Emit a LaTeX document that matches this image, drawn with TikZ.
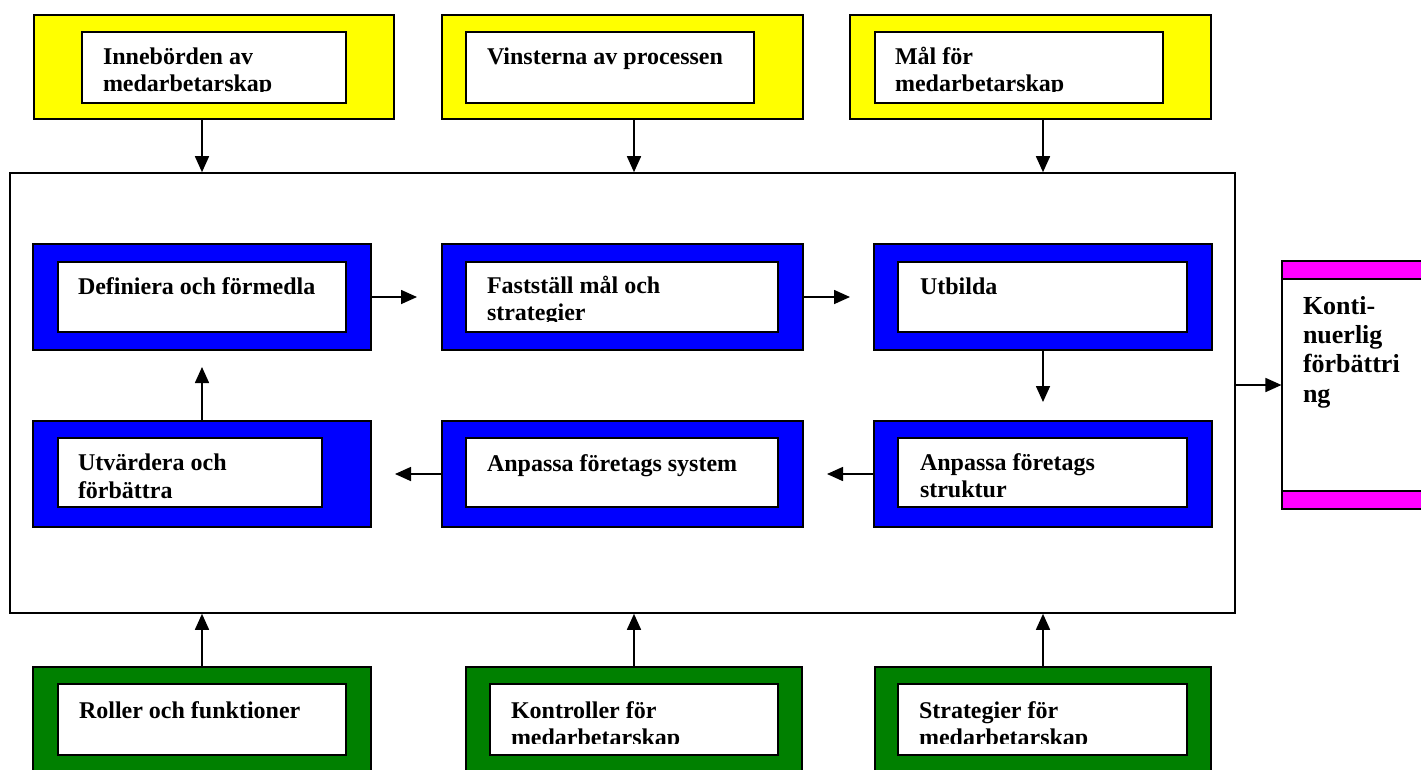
\documentclass[tikz,border=0pt]{standalone}
\usepackage{fontspec}
\setmainfont{Liberation Serif}
\usetikzlibrary{arrows.meta,fit}
\definecolor{yel}{RGB}{255,255,0}
\definecolor{blu}{RGB}{0,0,255}
\definecolor{grn}{RGB}{0,128,0}
\definecolor{mag}{RGB}{255,0,255}
\tikzset{
  outerbox/.style={draw=black, line width=0.8pt, inner sep=0pt},
  ybox/.style={outerbox, fill=yel},
  bbox/.style={outerbox, fill=blu},
  gbox/.style={outerbox, fill=grn},
  mstrip/.style={outerbox, fill=mag},
  inbox/.style={draw=black, fill=white, line width=1.2pt, inner sep=0pt},
  mainbox/.style={draw=black, fill=white, line width=1.2pt, inner sep=0pt},
  lbl/.style={anchor=base west, inner sep=0pt, outer sep=0pt, align=left,
    font=\fontsize{18}{20.6}\selectfont\bfseries},
  klbl/.style={lbl, font=\fontsize{19.5}{21.8}\selectfont\bfseries},
  arr/.style={-{Triangle[width=10.5pt,length=12pt]}, line width=1.2pt},
}
\begin{document}
\begin{tikzpicture}[x=0.75pt,y=-0.75pt]
\useasboundingbox (0,0) rectangle (1421,769);
\clip (0,0) rectangle (1421,769);

% main frame
\node[mainbox, fit={(10,173) (1235,613)}] (main) {};

% ---------- yellow boxes ----------
\node[ybox, fit={(34,15) (394,119)}] (y1o) {};
\node[inbox, fit={(82,32) (346,103)}] (y1i) {};
\begin{scope}\clip (82,32) rectangle (346,91);
\node[lbl] (y1t) at (103,91.5) {Innebörden av\\medarbetarskap};
\end{scope}

\node[ybox, fit={(442,15) (803,119)}] (y2o) {};
\node[inbox, fit={(466,32) (754,103)}] (y2i) {};
\begin{scope}\clip (466,32) rectangle (754,91);
\node[lbl] (y2t) at (487,64) {Vinsterna av processen};
\end{scope}

\node[ybox, fit={(850,15) (1211,119)}] (y3o) {};
\node[inbox, fit={(875,32) (1163,103)}] (y3i) {};
\begin{scope}\clip (875,32) rectangle (1163,91);
\node[lbl] (y3t) at (895,91.5) {Mål för\\medarbetarskap};
\end{scope}

% ---------- blue boxes, row 1 ----------
\node[bbox, fit={(33,244) (371,350)}] (b1o) {};
\node[inbox, fit={(58,262) (346,332)}] (b1i) {};
\begin{scope}\clip (58,262) rectangle (346,320);
\node[lbl] (b1t) at (78,294) {Definiera och förmedla};
\end{scope}

\node[bbox, fit={(442,244) (803,350)}] (b2o) {};
\node[inbox, fit={(466,262) (778,332)}] (b2i) {};
\begin{scope}\clip (466,262) rectangle (778,321);
\node[lbl] (b2t) at (487,320.5) {Fastställ mål och\\strategier};
\end{scope}

\node[bbox, fit={(874,244) (1212,350)}] (b3o) {};
\node[inbox, fit={(898,262) (1187,332)}] (b3i) {};
\begin{scope}\clip (898,262) rectangle (1187,320);
\node[lbl] (b3t) at (920,294) {Utbilda};
\end{scope}

% ---------- blue boxes, row 2 ----------
\node[bbox, fit={(33,421) (371,527)}] (b4o) {};
\node[inbox, fit={(58,438) (322,507)}] (b4i) {};
\begin{scope}\clip (58,438) rectangle (322,507);
\node[lbl] (b4t) at (78,498) {Utvärdera och\\förbättra};
\end{scope}

\node[bbox, fit={(442,421) (803,527)}] (b5o) {};
\node[inbox, fit={(466,438) (778,507)}] (b5i) {};
\begin{scope}\clip (466,438) rectangle (778,507);
\node[lbl] (b5t) at (487,471) {Anpassa företags system};
\end{scope}

\node[bbox, fit={(874,421) (1212,527)}] (b6o) {};
\node[inbox, fit={(898,438) (1187,507)}] (b6i) {};
\begin{scope}\clip (898,438) rectangle (1187,507);
\node[lbl] (b6t) at (920,497.5) {Anpassa företags\\struktur};
\end{scope}

% ---------- green boxes ----------
\node[gbox, fit={(33,667) (371,780)}] (g1o) {};
\node[inbox, fit={(58,684) (346,755)}] (g1i) {};
\begin{scope}\clip (58,684) rectangle (346,743);
\node[lbl] (g1t) at (79,718) {Roller och funktioner};
\end{scope}

\node[gbox, fit={(466,667) (802,780)}] (g2o) {};
\node[inbox, fit={(490,684) (778,755)}] (g2i) {};
\begin{scope}\clip (490,684) rectangle (778,743);
\node[lbl] (g2t) at (511,745.5) {Kontroller för\\medarbetarskap};
\end{scope}

\node[gbox, fit={(875,667) (1211,780)}] (g3o) {};
\node[inbox, fit={(898,684) (1187,755)}] (g3i) {};
\begin{scope}\clip (898,684) rectangle (1187,743);
\node[lbl] (g3t) at (919,745.5) {Strategier för\\medarbetarskap};
\end{scope}

% ---------- magenta box ----------
\node[outerbox, fill=white, fit={(1282,261) (1430,509)}] (ko) {};
\node[mstrip, fit={(1282,261) (1430,279)}] (ktop) {};
\node[mstrip, fit={(1282,491) (1430,509)}] (kbot) {};
\node[klbl] (kt) at (1303,402) {Konti-\\nuerlig\\förbättri\\ng};

% ---------- arrow end points ----------
\coordinate (a12) at (417,297);
\coordinate (a23) at (850,297);
\coordinate (a36) at (1043,402);
\coordinate (a65) at (827,474);
\coordinate (a54) at (395,474);
\coordinate (a41) at (202,367);

% ---------- connectors ----------
\draw[arr] (y1o.south -| b1o) -- (main.north -| b1o);
\draw[arr] (y2o.south -| g2o) -- (main.north -| g2o);
\draw[arr] (y3o.south -| b3o) -- (main.north -| b3o);

\draw[arr] (b1o.east) -- (a12);
\draw[arr] (b2o.east) -- (a23);
\draw[arr] (b3o.south) -- (a36);
\draw[arr] (b6o.west) -- (a65);
\draw[arr] (b5o.west) -- (a54);
\draw[arr] (b4o.north) -- (a41);

\draw[arr] (g1o.north) -- (main.south -| g1o);
\draw[arr] (g2o.north) -- (main.south -| g2o);
\draw[arr] (g3o.north) -- (main.south -| g3o);

\draw[arr] (main.east |- ko.west) -- (ko.west);
\end{tikzpicture}
\end{document}
